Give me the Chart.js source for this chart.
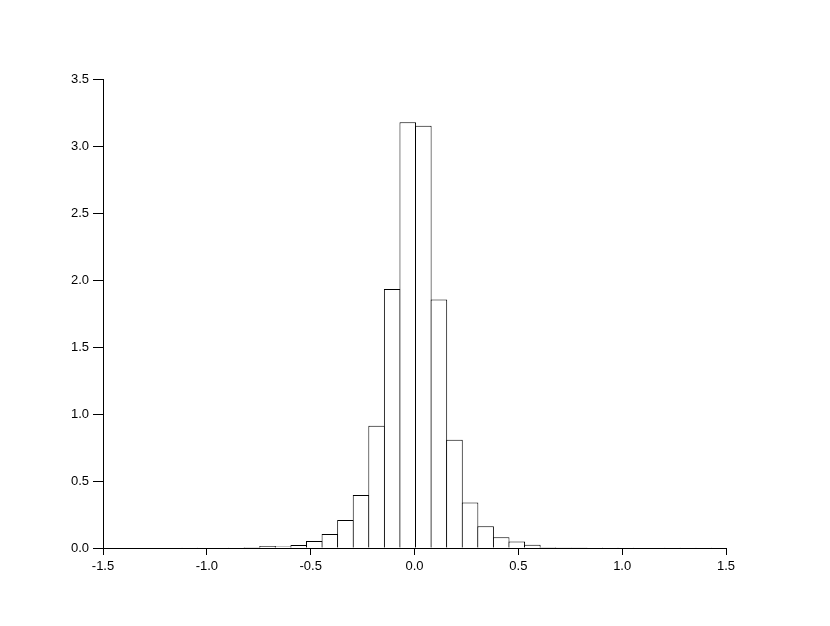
<!DOCTYPE html>
<html>
<head>
<meta charset="utf-8">
<script src="https://cdn.jsdelivr.net/npm/chart.js@4.4.0/dist/chart.umd.min.js"></script>
<style>
  html, body { margin: 0; padding: 0; background: #fff; }
  #wrap { width: 830px; height: 626px; }
</style>
</head>
<body>
<div id="wrap"><canvas id="hist" width="830" height="626"></canvas></div>
<script>
// left edge of each histogram bin
const binLefts = [
  -1.495, -1.42, -1.345, -1.27, -1.195, -1.12, -1.045, -0.97, -0.895, -0.82,
  -0.745, -0.67, -0.595, -0.52, -0.445, -0.37, -0.295, -0.22, -0.145, -0.07,
  0.005, 0.08, 0.155, 0.23, 0.305, 0.38, 0.455, 0.53, 0.605, 0.68,
  0.755, 0.83, 0.905, 0.98, 1.055, 1.13, 1.205, 1.28, 1.355, 1.43
];
const binWidth = 0.075;

// density per bin
const density = [
  0, 0, 0, 0, 0, 0.001, 0, 0.004, 0.001, 0.008,
  0.014, 0.011, 0.023, 0.052, 0.104, 0.209, 0.396, 0.913, 1.933, 3.177,
  3.151, 1.855, 0.808, 0.340, 0.163, 0.080, 0.049, 0.025, 0.007, 0.005,
  0.002, 0.001, 0.001, 0.001, 0, 0.004, 0.001, 0, 0.001, 0
];

const xTicks = [-1.5, -1.0, -0.5, 0.0, 0.5, 1.0, 1.5];
const yTicks = [0.0, 0.5, 1.0, 1.5, 2.0, 2.5, 3.0, 3.5];

const points = binLefts.map((l, i) => ({ x: l + binWidth / 2, y: density[i] }));

const tickFont = { family: "'Liberation Sans', Arial, sans-serif", size: 13 };

new Chart(document.getElementById('hist'), {
  type: 'bar',
  data: {
    datasets: [
      {
        data: points,
        backgroundColor: '#ffffff',
        borderColor: '#000000',
        borderWidth: 1,
        borderSkipped: 'start',
        inflateAmount: 0,
        barPercentage: 1.064,
        categoryPercentage: 1
      }
    ]
  },
  options: {
    responsive: false,
    animation: false,
    devicePixelRatio: 1,
    layout: { padding: { left: 53, right: 104, top: 79, bottom: 38 } },
    plugins: {
      legend: { display: false },
      tooltip: { enabled: false },
      title: { display: false }
    },
    scales: {
      x: {
        type: 'linear',
        min: xTicks[0],
        max: xTicks[xTicks.length - 1],
        z: 1,
        offset: false,
        afterFit: (scale) => { scale.height = 40; },
        afterBuildTicks: (scale) => { scale.ticks = xTicks.map(v => ({ value: v })); },
        ticks: {
          color: '#000',
          font: tickFont,
          padding: 4,
          maxRotation: 0,
          callback: (v) => Number(v).toFixed(1)
        },
        grid: {
          offset: false,
          drawOnChartArea: false,
          drawTicks: true,
          tickLength: 7,
          tickColor: '#000',
          color: '#000'
        },
        border: { display: true, color: '#000', width: 1 }
      },
      y: {
        min: yTicks[0],
        max: yTicks[yTicks.length - 1],
        z: 1,
        afterFit: (scale) => { scale.width = 50; },
        afterBuildTicks: (scale) => { scale.ticks = yTicks.map(v => ({ value: v })); },
        ticks: {
          color: '#000',
          font: tickFont,
          padding: 4,
          callback: (v) => Number(v).toFixed(1)
        },
        grid: {
          drawOnChartArea: false,
          drawTicks: true,
          tickLength: 10,
          tickColor: '#000',
          color: '#000'
        },
        border: { display: true, color: '#000', width: 1 }
      }
    }
  }
});
</script>
</body>
</html>
